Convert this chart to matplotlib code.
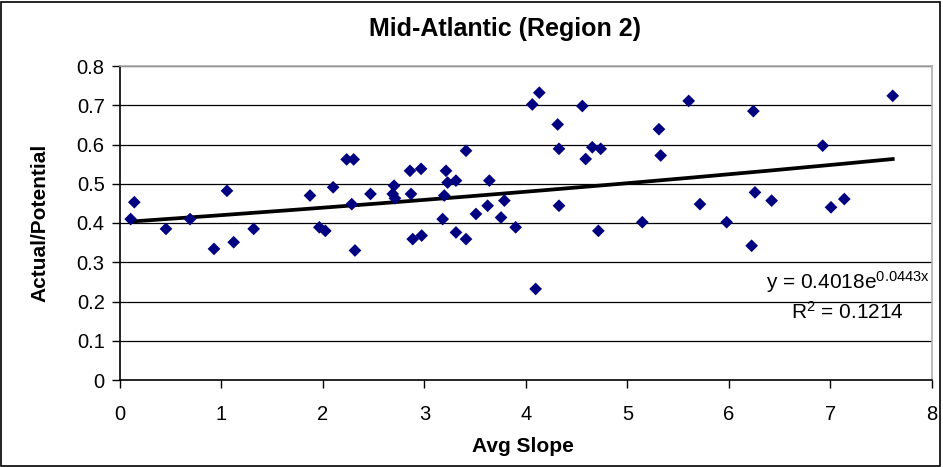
import numpy as np
import matplotlib
matplotlib.use("Agg")
import matplotlib.pyplot as plt
from matplotlib.patches import Rectangle

plt.rcParams['font.family'] = ['Liberation Sans', 'DejaVu Sans']
plt.rcParams['mathtext.default'] = 'regular'

# Average slope vs. actual/potential ratio for Mid-Atlantic sites
avg_slope = [0.105, 0.141, 0.453, 0.69, 0.926, 1.054, 1.12, 1.317, 1.872, 1.964,
             2.023, 2.10, 2.233, 2.302, 2.283, 2.315, 2.468, 2.70, 2.687, 2.709,
             2.857, 2.867, 2.884, 2.966, 2.972, 3.179, 3.212, 3.195, 3.228, 3.31,
             3.31, 3.409, 3.409, 3.507, 3.622, 3.639, 3.754, 3.787, 3.898, 4.062,
             4.131, 4.095, 4.312, 4.325, 4.325, 4.555, 4.588, 4.653, 4.736, 4.713,
             5.146, 5.603, 5.31, 5.327, 5.714, 5.977, 6.24, 6.256, 6.223, 6.42,
             6.923, 7.005, 7.136, 7.613]
actual_potential = [0.410, 0.453, 0.385, 0.410, 0.334, 0.482, 0.351, 0.385, 0.470, 0.389,
                    0.380, 0.491, 0.562, 0.562, 0.448, 0.330, 0.474, 0.495, 0.474, 0.463,
                    0.533, 0.474, 0.359, 0.538, 0.368, 0.410, 0.533, 0.470, 0.503, 0.508,
                    0.376, 0.584, 0.359, 0.423, 0.444, 0.508, 0.414, 0.457, 0.389, 0.702,
                    0.732, 0.232, 0.651, 0.589, 0.444, 0.698, 0.563, 0.593, 0.589, 0.380,
                    0.402, 0.711, 0.639, 0.572, 0.448, 0.402, 0.685, 0.478, 0.342, 0.457,
                    0.597, 0.440, 0.461, 0.724]

# Exponential trendline coefficients
fit_a = 0.4018
fit_b = 0.0443
r_squared = 0.1214

x_ticks = [0, 1, 2, 3, 4, 5, 6, 7, 8]
y_ticks = [0, 0.1, 0.2, 0.3, 0.4, 0.5, 0.6, 0.7, 0.8]

fig = plt.figure(figsize=(9.43, 4.67), dpi=100)
ax = fig.add_axes([120 / 943, 1 - 380 / 467, (932 - 120) / 943, (380 - 66) / 467])

# outer chart frame
fig.patches.append(Rectangle((0.001, 0.002), 0.996, 0.994, transform=fig.transFigure,
                             fill=False, edgecolor='black', linewidth=1.2))

for y in y_ticks[1:]:
    ax.axhline(y, color='black', linewidth=0.9, zorder=1)

ax.scatter(avg_slope, actual_potential, marker='D', s=42, color='#000080',
           edgecolors='none', zorder=3)

xs = np.linspace(min(avg_slope), max(avg_slope), 200)
ax.plot(xs, fit_a * np.exp(fit_b * xs), color='black', linewidth=2.7, zorder=2)

ax.set_xlim(0, 8)
ax.set_ylim(0, 0.8)
ax.set_xticks(x_ticks)
ax.set_yticks(y_ticks)
ax.set_xticklabels([str(v) for v in x_ticks])
ax.set_yticklabels(['0'] + [f'{v:.1f}' for v in y_ticks[1:]])
ax.tick_params(axis='both', direction='out', length=6, width=1, labelsize=14.5,
               color='black')
ax.tick_params(axis='x', pad=12)
ax.tick_params(axis='y', pad=5)

for side in ('left', 'bottom'):
    ax.spines[side].set_color('black')
    ax.spines[side].set_linewidth(1.2)
for side in ('top', 'right'):
    ax.spines[side].set_color('#b0b0b0')
    ax.spines[side].set_linewidth(1.2)

fig.text(505 / 943, 1 - 29 / 467, 'Mid-Atlantic (Region 2)', fontsize=18,
         fontweight='bold', ha='center', va='center')
fig.text(523 / 943, 1 - 447 / 467, 'Avg Slope', fontsize=15, fontweight='bold',
         ha='center', va='center')
fig.text(40 / 943, 1 - 223 / 467, 'Actual/Potential', fontsize=15, fontweight='bold',
         ha='center', va='center', rotation=90)

ax.text(0.9975, 0.312, r'y = 0.4018e$^{0.0443x}$', transform=ax.transAxes,
        ha='right', va='center', fontsize=15)
ax.text(0.965, 0.217, r'R$^{2}$ = ' + f'{r_squared:.4f}', transform=ax.transAxes,
        ha='right', va='center', fontsize=15)

fig.savefig('out.png', dpi=100)
